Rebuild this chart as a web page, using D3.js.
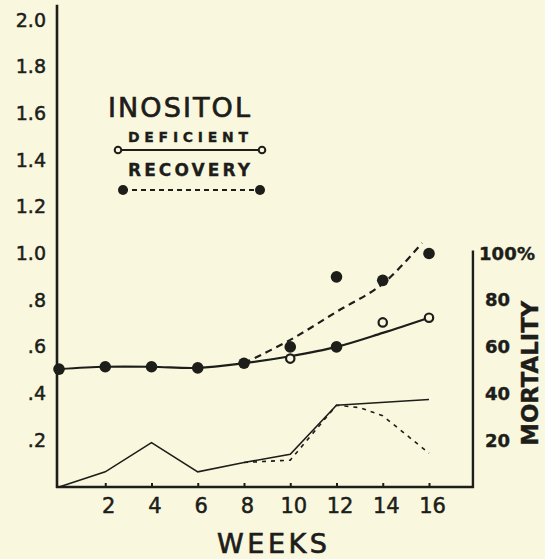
<!DOCTYPE html>
<html>
<head>
<meta charset="utf-8">
<script src="https://cdn.jsdelivr.net/npm/d3@7"></script>
<style>
  body { margin: 0; background: #f9f8df; }
  svg { display: block; font-family: "DejaVu Sans", sans-serif; }
</style>
</head>
<body>
<svg></svg>
<script>
var width = 545;
var height = 559;
var ink = "#1d1d1a";
var paper = "#f9f8df";

// weight curves (left scale)
var weeks = [0, 2, 4, 6, 8, 10, 12, 14, 16];
var deficientCurve = [0.505, 0.515, 0.515, 0.51, 0.53, 0.56, 0.60, 0.66, 0.725];
var recoveryWeeks = [8, 10, 12, 14, 15.7];
var recoveryCurve = [0.53, 0.63, 0.75, 0.87, 1.045];

// plotted points
var filledWeeks = [0, 2, 4, 6, 8, 10, 12, 12, 14, 16];
var filledValues = [0.505, 0.515, 0.515, 0.51, 0.53, 0.60, 0.60, 0.90, 0.885, 1.0];
var openWeeks = [10, 14, 16];
var openValues = [0.55, 0.705, 0.725];

// mortality (right scale, %)
var mortDefWeeks = [0, 2, 4, 6, 8, 10, 12, 16];
var mortDefPct = [0, 6.5, 19, 6.5, 10.5, 14, 35, 37.5];
var mortRecWeeks = [8, 10, 12, 13, 14, 16];
var mortRecPct = [10.5, 11.5, 35, 34, 30.5, 14.5];

var leftTicks = [0.2, 0.4, 0.6, 0.8, 1.0, 1.2, 1.4, 1.6, 1.8, 2.0];
var weekTicks = [2, 4, 6, 8, 10, 12, 14, 16];
var mortTicks = [20, 40, 60, 80, 100];

var svg = d3.select("svg")
    .attr("width", width)
    .attr("height", height);

var x = d3.scaleLinear().domain([0, 16]).range([59, 429]);
var y = d3.scaleLinear().domain([0, 2]).range([487, 20]);
var yMort = d3.scaleLinear().domain([0, 100]).range([y(0), y(1)]);

// heavier lettering, like the stencilled original
function inked(sel, w) {
    sel.attr("fill", ink).attr("stroke", ink).attr("stroke-width", w).style("font-family", "DejaVu Sans");
}

// axes frame
svg.append("line")
    .attr("x1", 57).attr("x2", 57)
    .attr("y1", y(2.065)).attr("y2", y(0) + 1)
    .attr("stroke", ink).attr("stroke-width", 2.6);

var xAxis = svg.append("g")
    .attr("transform", "translate(0," + y(0) + ")")
    .call(d3.axisBottom(x).tickValues(weekTicks).tickSizeInner(-4).tickSizeOuter(0).tickPadding(11));
xAxis.select(".domain").remove();
xAxis.selectAll("line").attr("stroke", ink).attr("stroke-width", 2);
xAxis.selectAll("text").call(inked, 0.5).attr("dx", 3).style("font-size", "21px");

svg.append("line")
    .attr("x1", 56).attr("x2", x(17.9) + 1)
    .attr("y1", y(0)).attr("y2", y(0))
    .attr("stroke", ink).attr("stroke-width", 2.6);

var yAxis = svg.append("g")
    .attr("transform", "translate(57,0)")
    .call(d3.axisLeft(y).tickValues(leftTicks).tickSize(0).tickPadding(11)
        .tickFormat(function(d) { return d >= 1 ? d3.format(".1f")(d) : d3.format(".1f")(d).slice(1); }));
yAxis.select(".domain").remove();
yAxis.selectAll("text").call(inked, 0.5).style("font-size", "19px");

var rightX = x(17.9);
svg.append("line")
    .attr("x1", rightX).attr("x2", rightX)
    .attr("y1", yMort(100) - 3).attr("y2", y(0) + 1)
    .attr("stroke", ink).attr("stroke-width", 2.4);

var rAxis = svg.append("g")
    .attr("transform", "translate(" + rightX + ",0)")
    .call(d3.axisRight(yMort).tickValues(mortTicks).tickSize(0).tickPadding(12)
        .tickFormat(function(d) { return d == 100 ? "100%" : d; }));
rAxis.select(".domain").remove();
rAxis.selectAll("text").call(inked, 0.4).style("font-size", "18px").style("font-weight", "bold");
rAxis.selectAll(".tick").filter(function(d) { return d == 100; }).select("text")
    .attr("dx", -6).attr("textLength", 56);

svg.append("text")
    .attr("transform", "translate(538," + ((yMort(20) + yMort(80)) / 2 + 3) + ") rotate(-90)")
    .attr("text-anchor", "middle")
    .attr("textLength", 145)
    .attr("lengthAdjust", "spacingAndGlyphs")
    .call(inked, 0.4)
    .style("font-size", "23px").style("font-weight", "bold")
    .text("MORTALITY");

svg.append("text")
    .attr("x", 272).attr("y", 553)
    .attr("text-anchor", "middle")
    .attr("textLength", 110)
    .call(inked, 0.7)
    .style("font-size", "27px")
    .text("WEEKS");

// weight curves
var smooth = d3.line().curve(d3.curveCatmullRom)
    .x(function(d) { return x(d[0]); })
    .y(function(d) { return y(d[1]); });

svg.append("path")
    .datum(d3.zip(weeks, deficientCurve))
    .attr("d", smooth)
    .attr("fill", "none").attr("stroke", ink).attr("stroke-width", 2.2);

svg.append("path")
    .datum(d3.zip(recoveryWeeks, recoveryCurve))
    .attr("d", smooth)
    .attr("fill", "none").attr("stroke", ink).attr("stroke-width", 2.2)
    .attr("stroke-dasharray", "7,5");

// mortality lines
var straight = d3.line()
    .x(function(d) { return x(d[0]); })
    .y(function(d) { return yMort(d[1]); });

svg.append("path")
    .datum(d3.zip(mortDefWeeks, mortDefPct))
    .attr("d", straight)
    .attr("fill", "none").attr("stroke", ink).attr("stroke-width", 1.6);

svg.append("path")
    .datum(d3.zip(mortRecWeeks, mortRecPct))
    .attr("d", straight)
    .attr("fill", "none").attr("stroke", ink).attr("stroke-width", 1.6)
    .attr("stroke-dasharray", "4,5");

// points
svg.append("g").selectAll("circle")
    .data(d3.zip(filledWeeks, filledValues))
    .enter().append("circle")
    .attr("cx", function(d) { return x(d[0]); })
    .attr("cy", function(d) { return y(d[1]); })
    .attr("r", 5.8)
    .attr("fill", ink);

svg.append("g").selectAll("circle")
    .data(d3.zip(openWeeks, openValues))
    .enter().append("circle")
    .attr("cx", function(d) { return x(d[0]); })
    .attr("cy", function(d) { return y(d[1]); })
    .attr("r", 4.2)
    .attr("fill", paper).attr("stroke", ink).attr("stroke-width", 2.2);

// legend
var legend = svg.append("g");
legend.append("text")
    .attr("x", 179).attr("y", 117)
    .attr("text-anchor", "middle").attr("textLength", 142)
    .call(inked, 0.7).style("font-size", "27px")
    .text("INOSITOL");
legend.append("text")
    .attr("x", 188).attr("y", 142)
    .attr("text-anchor", "middle").attr("textLength", 120)
    .call(inked, 0.3).style("font-size", "14px").style("font-weight", "bold")
    .text("DEFICIENT");
legend.append("line")
    .attr("x1", 118).attr("x2", 262).attr("y1", 150).attr("y2", 150)
    .attr("stroke", ink).attr("stroke-width", 2);
legend.selectAll(".lo").data([118, 262]).enter().append("circle")
    .attr("cx", function(d) { return d; }).attr("cy", 150).attr("r", 3.3)
    .attr("fill", paper).attr("stroke", ink).attr("stroke-width", 2);
legend.append("text")
    .attr("x", 189).attr("y", 176)
    .attr("text-anchor", "middle").attr("textLength", 122)
    .call(inked, 0.3).style("font-size", "17px").style("font-weight", "bold")
    .text("RECOVERY");
legend.append("line")
    .attr("x1", 123).attr("x2", 260).attr("y1", 190).attr("y2", 190)
    .attr("stroke", ink).attr("stroke-width", 2)
    .attr("stroke-dasharray", "5,4");
legend.selectAll(".lf").data([123, 260]).enter().append("circle")
    .attr("cx", function(d) { return d; }).attr("cy", 190).attr("r", 5)
    .attr("fill", ink);
</script>
</body>
</html>
